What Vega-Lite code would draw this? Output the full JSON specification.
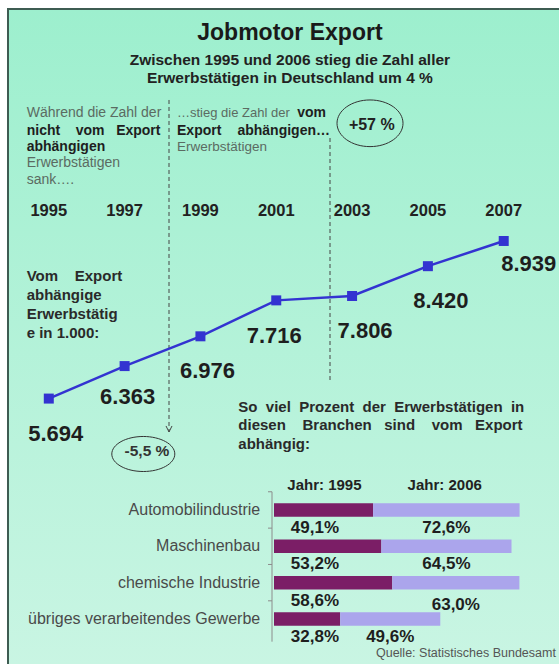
{
  "$schema": "https://vega.github.io/schema/vega-lite/v6.json",
  "width": 553,
  "height": 657,
  "autosize": {"type": "none"},
  "padding": {"left": 8, "top": 9, "right": 0, "bottom": 0},
  "background": "#ffffff",
  "config": {
    "view": {
      "fill": {"gradient": "linear", "x1": 0, "y1": 0, "x2": 0, "y2": 1, "stops": [{"offset": 0, "color": "#9defce"}, {"offset": 1, "color": "#c9f5e3"}]},
      "stroke": "#3e5c52",
      "strokeWidth": 2
    },
    "text": {"font": "Liberation Sans"}
  },
  "resolve": {"scale": {"x": "independent", "y": "independent", "color": "independent"}, "axis": {"x": "independent", "y": "independent"}},
  "layer": [
    {
      "data": {"values": [
        {"year": 1995, "value": 5694, "label": "5.694"},
        {"year": 1997, "value": 6363, "label": "6.363"},
        {"year": 1999, "value": 6976, "label": "6.976"},
        {"year": 2001, "value": 7716, "label": "7.716"},
        {"year": 2003, "value": 7806, "label": "7.806"},
        {"year": 2005, "value": 8420, "label": "8.420"},
        {"year": 2007, "value": 8939, "label": "8.939"}
      ]},
      "layer": [
        {
          "mark": {"type": "rule", "strokeDash": [4, 3], "color": "#444444", "strokeWidth": 1},
          "data": {"values": [{}]},
          "encoding": {
            "x": {"datum": 1998.171, "type": "quantitative", "scale": {"domain": [1993.924, 2008.511], "nice": false, "zero": false}, "axis": null},
            "y": {"datum": 11842, "type": "quantitative", "scale": {"domain": [188.1, 13715], "nice": false, "zero": false}, "axis": null},
            "y2": {"datum": 5006}
          }
        },
        {
          "mark": {"type": "rule", "strokeDash": [4, 3], "color": "#444444", "strokeWidth": 1},
          "data": {"values": [{}]},
          "encoding": {
            "x": {"datum": 2002.418, "type": "quantitative", "scale": {"domain": [1993.924, 2008.511], "nice": false, "zero": false}, "axis": null},
            "y": {"datum": 11059, "type": "quantitative", "scale": {"domain": [188.1, 13715], "nice": false, "zero": false}, "axis": null},
            "y2": {"datum": 6036}
          }
        },
        {
          "mark": {"type": "rule", "color": "#8c8c8c", "strokeWidth": 1},
          "data": {"values": [{}]},
          "encoding": {
            "x": {"datum": 2000.888, "type": "quantitative", "scale": {"domain": [1993.924, 2008.511], "nice": false, "zero": false}, "axis": null},
            "y": {"datum": 3775, "type": "quantitative", "scale": {"domain": [188.1, 13715], "nice": false, "zero": false}, "axis": null},
            "y2": {"datum": 689}
          }
        },
        {
          "mark": {"type": "point", "shape": "M-1,-1L0,1L1,-1", "size": 36, "filled": false, "stroke": "#444444", "strokeWidth": 1, "opacity": 1},
          "data": {"values": [{}]},
          "encoding": {
            "x": {"datum": 1998.171, "type": "quantitative", "scale": {"domain": [1993.924, 2008.511], "nice": false, "zero": false}, "axis": null},
            "y": {"datum": 5068, "type": "quantitative", "scale": {"domain": [188.1, 13715], "nice": false, "zero": false}, "axis": null}
          }
        },
        {
          "mark": {"type": "point", "shape": "M-1,0C-1,-0.3905,-0.5523,-0.707,0,-0.707C0.5523,-0.707,1,-0.3905,1,0C1,0.3905,0.5523,0.707,0,0.707C-0.5523,0.707,-1,0.3905,-1,0Z", "size": 4356, "filled": false, "stroke": "#333333", "strokeWidth": 1, "opacity": 1},
          "data": {"values": [{}]},
          "encoding": {
            "x": {"datum": 2003.473, "type": "quantitative", "scale": {"domain": [1993.924, 2008.511], "nice": false, "zero": false}, "axis": null},
            "y": {"datum": 11362, "type": "quantitative", "scale": {"domain": [188.1, 13715], "nice": false, "zero": false}, "axis": null}
          }
        },
        {
          "mark": {"type": "point", "shape": "M-1,0C-1,-0.307,-0.5523,-0.556,0,-0.556C0.5523,-0.556,1,-0.307,1,0C1,0.307,0.5523,0.556,0,0.556C-0.5523,0.556,-1,0.307,-1,0Z", "size": 3969, "filled": false, "stroke": "#333333", "strokeWidth": 1, "opacity": 1},
          "data": {"values": [{}]},
          "encoding": {
            "x": {"datum": 1997.493, "type": "quantitative", "scale": {"domain": [1993.924, 2008.511], "nice": false, "zero": false}, "axis": null},
            "y": {"datum": 4553, "type": "quantitative", "scale": {"domain": [188.1, 13715], "nice": false, "zero": false}, "axis": null}
          }
        },
        {
          "mark": {"type": "line", "color": "#3333d1", "strokeWidth": 2.5},
          "encoding": {
            "x": {"field": "year", "type": "quantitative", "scale": {"domain": [1993.924, 2008.511], "nice": false, "zero": false}, "axis": null},
            "y": {"field": "value", "type": "quantitative", "scale": {"domain": [188.1, 13715], "nice": false, "zero": false}, "axis": null}
          }
        },
        {
          "mark": {"type": "point", "shape": "square", "filled": true, "color": "#3333d1", "size": 100, "opacity": 1},
          "encoding": {
            "x": {"field": "year", "type": "quantitative", "scale": {"domain": [1993.924, 2008.511], "nice": false, "zero": false}, "axis": null},
            "y": {"field": "value", "type": "quantitative", "scale": {"domain": [188.1, 13715], "nice": false, "zero": false}, "axis": null}
          }
        },
        {
          "mark": {"type": "text", "fontWeight": "bold", "fontSize": 16.5, "color": "#222222", "baseline": "middle"},
          "encoding": {
            "x": {"field": "year", "type": "quantitative", "scale": {"domain": [1993.924, 2008.511], "nice": false, "zero": false}, "axis": null},
            "y": {"datum": 9546, "type": "quantitative", "scale": {"domain": [188.1, 13715], "nice": false, "zero": false}, "axis": null},
            "text": {"field": "year", "type": "nominal"}
          }
        },
        {
          "transform": [{"filter": "datum.year == 1995 || datum.year == 1999"}],
          "mark": {"type": "text", "fontWeight": "bold", "fontSize": 22, "color": "#1e1e1e", "baseline": "middle", "dx": 7, "dy": 35},
          "encoding": {
            "x": {"field": "year", "type": "quantitative", "scale": {"domain": [1993.924, 2008.511], "nice": false, "zero": false}, "axis": null},
            "y": {"field": "value", "type": "quantitative", "scale": {"domain": [188.1, 13715], "nice": false, "zero": false}, "axis": null},
            "text": {"field": "label", "type": "nominal"}
          }
        },
        {
          "transform": [{"filter": "datum.year == 1997"}],
          "mark": {"type": "text", "fontWeight": "bold", "fontSize": 22, "color": "#1e1e1e", "baseline": "middle", "dx": 3, "dy": 31},
          "encoding": {
            "x": {"field": "year", "type": "quantitative", "scale": {"domain": [1993.924, 2008.511], "nice": false, "zero": false}, "axis": null},
            "y": {"field": "value", "type": "quantitative", "scale": {"domain": [188.1, 13715], "nice": false, "zero": false}, "axis": null},
            "text": {"field": "label", "type": "nominal"}
          }
        },
        {
          "transform": [{"filter": "datum.year == 2001"}],
          "mark": {"type": "text", "fontWeight": "bold", "fontSize": 22, "color": "#1e1e1e", "baseline": "middle", "dx": -2, "dy": 36},
          "encoding": {
            "x": {"field": "year", "type": "quantitative", "scale": {"domain": [1993.924, 2008.511], "nice": false, "zero": false}, "axis": null},
            "y": {"field": "value", "type": "quantitative", "scale": {"domain": [188.1, 13715], "nice": false, "zero": false}, "axis": null},
            "text": {"field": "label", "type": "nominal"}
          }
        },
        {
          "transform": [{"filter": "datum.year == 2003 || datum.year == 2005"}],
          "mark": {"type": "text", "fontWeight": "bold", "fontSize": 22, "color": "#1e1e1e", "baseline": "middle", "dx": 13, "dy": 35},
          "encoding": {
            "x": {"field": "year", "type": "quantitative", "scale": {"domain": [1993.924, 2008.511], "nice": false, "zero": false}, "axis": null},
            "y": {"field": "value", "type": "quantitative", "scale": {"domain": [188.1, 13715], "nice": false, "zero": false}, "axis": null},
            "text": {"field": "label", "type": "nominal"}
          }
        },
        {
          "transform": [{"filter": "datum.year == 2007"}],
          "mark": {"type": "text", "fontWeight": "bold", "fontSize": 22, "color": "#1e1e1e", "baseline": "middle", "dx": 25, "dy": 23},
          "encoding": {
            "x": {"field": "year", "type": "quantitative", "scale": {"domain": [1993.924, 2008.511], "nice": false, "zero": false}, "axis": null},
            "y": {"field": "value", "type": "quantitative", "scale": {"domain": [188.1, 13715], "nice": false, "zero": false}, "axis": null},
            "text": {"field": "label", "type": "nominal"}
          }
        },
        {
          "data": {"values": [{"t": "Jobmotor Export"}]},
          "mark": {"type": "text", "fontWeight": "bold", "fontSize": 23, "color": "#1a1a1a", "baseline": "middle", "align": "center"},
          "encoding": {
            "x": {"datum": 2001.36, "type": "quantitative", "scale": {"domain": [1993.924, 2008.511], "nice": false, "zero": false}, "axis": null},
            "y": {"datum": 13215, "type": "quantitative", "scale": {"domain": [188.1, 13715], "nice": false, "zero": false}, "axis": null},
            "text": {"field": "t"}
          }
        },
        {
          "data": {"values": [{"t": "Zwischen 1995 und 2006 stieg die Zahl aller"}]},
          "mark": {"type": "text", "fontWeight": "bold", "fontSize": 15.5, "color": "#222222", "baseline": "middle", "align": "center"},
          "encoding": {
            "x": {"datum": 2001.36, "type": "quantitative", "scale": {"domain": [1993.924, 2008.511], "nice": false, "zero": false}, "axis": null},
            "y": {"datum": 12665, "type": "quantitative", "scale": {"domain": [188.1, 13715], "nice": false, "zero": false}, "axis": null},
            "text": {"field": "t"}
          }
        },
        {
          "data": {"values": [{"t": "Erwerbstätigen in Deutschland um 4 %"}]},
          "mark": {"type": "text", "fontWeight": "bold", "fontSize": 15.5, "color": "#222222", "baseline": "middle", "align": "center"},
          "encoding": {
            "x": {"datum": 2001.36, "type": "quantitative", "scale": {"domain": [1993.924, 2008.511], "nice": false, "zero": false}, "axis": null},
            "y": {"datum": 12301, "type": "quantitative", "scale": {"domain": [188.1, 13715], "nice": false, "zero": false}, "axis": null},
            "text": {"field": "t"}
          }
        },
        {
          "data": {"values": [{"t": "Während die Zahl der"}]},
          "mark": {"type": "text", "fontSize": 14, "color": "#5b6b62", "baseline": "middle", "align": "left"},
          "encoding": {
            "x": {"datum": 1994.417, "type": "quantitative", "scale": {"domain": [1993.924, 2008.511], "nice": false, "zero": false}, "axis": null},
            "y": {"datum": 11568, "type": "quantitative", "scale": {"domain": [188.1, 13715], "nice": false, "zero": false}, "axis": null},
            "text": {"field": "t"}
          }
        },
        {
          "data": {"values": [{"t": "nicht\u00a0\u00a0\u00a0 vom\u00a0\u00a0 Export"}]},
          "mark": {"type": "text", "fontWeight": "bold", "fontSize": 14, "color": "#1e1e1e", "baseline": "middle", "align": "left"},
          "encoding": {
            "x": {"datum": 1994.417, "type": "quantitative", "scale": {"domain": [1993.924, 2008.511], "nice": false, "zero": false}, "axis": null},
            "y": {"datum": 11210, "type": "quantitative", "scale": {"domain": [188.1, 13715], "nice": false, "zero": false}, "axis": null},
            "text": {"field": "t"}
          }
        },
        {
          "data": {"values": [{"t": "abhängigen"}]},
          "mark": {"type": "text", "fontWeight": "bold", "fontSize": 14, "color": "#1e1e1e", "baseline": "middle", "align": "left"},
          "encoding": {
            "x": {"datum": 1994.417, "type": "quantitative", "scale": {"domain": [1993.924, 2008.511], "nice": false, "zero": false}, "axis": null},
            "y": {"datum": 10880, "type": "quantitative", "scale": {"domain": [188.1, 13715], "nice": false, "zero": false}, "axis": null},
            "text": {"field": "t"}
          }
        },
        {
          "data": {"values": [{"t": "Erwerbstätigen\nsank…."}]},
          "mark": {"type": "text", "fontSize": 14, "color": "#5b6b62", "baseline": "middle", "align": "left", "lineBreak": "\n", "lineHeight": 16.7},
          "encoding": {
            "x": {"datum": 1994.417, "type": "quantitative", "scale": {"domain": [1993.924, 2008.511], "nice": false, "zero": false}, "axis": null},
            "y": {"datum": 10539, "type": "quantitative", "scale": {"domain": [188.1, 13715], "nice": false, "zero": false}, "axis": null},
            "text": {"field": "t"}
          }
        },
        {
          "data": {"values": [{"t": "…stieg die Zahl der"}]},
          "mark": {"type": "text", "fontSize": 13, "color": "#5b6b62", "baseline": "middle", "align": "left"},
          "encoding": {
            "x": {"datum": 1998.382, "type": "quantitative", "scale": {"domain": [1993.924, 2008.511], "nice": false, "zero": false}, "axis": null},
            "y": {"datum": 11568, "type": "quantitative", "scale": {"domain": [188.1, 13715], "nice": false, "zero": false}, "axis": null},
            "text": {"field": "t"}
          }
        },
        {
          "data": {"values": [{"t": "vom"}]},
          "mark": {"type": "text", "fontWeight": "bold", "fontSize": 14, "color": "#1e1e1e", "baseline": "middle", "align": "right"},
          "encoding": {
            "x": {"datum": 2002.312, "type": "quantitative", "scale": {"domain": [1993.924, 2008.511], "nice": false, "zero": false}, "axis": null},
            "y": {"datum": 11568, "type": "quantitative", "scale": {"domain": [188.1, 13715], "nice": false, "zero": false}, "axis": null},
            "text": {"field": "t"}
          }
        },
        {
          "data": {"values": [{"t": "Export"}]},
          "mark": {"type": "text", "fontWeight": "bold", "fontSize": 14, "color": "#1e1e1e", "baseline": "middle", "align": "left"},
          "encoding": {
            "x": {"datum": 1998.382, "type": "quantitative", "scale": {"domain": [1993.924, 2008.511], "nice": false, "zero": false}, "axis": null},
            "y": {"datum": 11210, "type": "quantitative", "scale": {"domain": [188.1, 13715], "nice": false, "zero": false}, "axis": null},
            "text": {"field": "t"}
          }
        },
        {
          "data": {"values": [{"t": "abhängigen…"}]},
          "mark": {"type": "text", "fontWeight": "bold", "fontSize": 14, "color": "#1e1e1e", "baseline": "middle", "align": "right"},
          "encoding": {
            "x": {"datum": 2002.418, "type": "quantitative", "scale": {"domain": [1993.924, 2008.511], "nice": false, "zero": false}, "axis": null},
            "y": {"datum": 11210, "type": "quantitative", "scale": {"domain": [188.1, 13715], "nice": false, "zero": false}, "axis": null},
            "text": {"field": "t"}
          }
        },
        {
          "data": {"values": [{"t": "Erwerbstätigen"}]},
          "mark": {"type": "text", "fontSize": 13.5, "color": "#5b6b62", "baseline": "middle", "align": "left"},
          "encoding": {
            "x": {"datum": 1998.382, "type": "quantitative", "scale": {"domain": [1993.924, 2008.511], "nice": false, "zero": false}, "axis": null},
            "y": {"datum": 10880, "type": "quantitative", "scale": {"domain": [188.1, 13715], "nice": false, "zero": false}, "axis": null},
            "text": {"field": "t"}
          }
        },
        {
          "data": {"values": [{"t": "+57 %"}]},
          "mark": {"type": "text", "fontWeight": "bold", "fontSize": 16, "color": "#222222", "baseline": "middle", "align": "center"},
          "encoding": {
            "x": {"datum": 2003.52, "type": "quantitative", "scale": {"domain": [1993.924, 2008.511], "nice": false, "zero": false}, "axis": null},
            "y": {"datum": 11327, "type": "quantitative", "scale": {"domain": [188.1, 13715], "nice": false, "zero": false}, "axis": null},
            "text": {"field": "t"}
          }
        },
        {
          "data": {"values": [{"t": "-5,5 %"}]},
          "mark": {"type": "text", "fontWeight": "bold", "fontSize": 15.5, "color": "#333333", "baseline": "middle", "align": "center"},
          "encoding": {
            "x": {"datum": 1997.59, "type": "quantitative", "scale": {"domain": [1993.924, 2008.511], "nice": false, "zero": false}, "axis": null},
            "y": {"datum": 4615, "type": "quantitative", "scale": {"domain": [188.1, 13715], "nice": false, "zero": false}, "axis": null},
            "text": {"field": "t"}
          }
        },
        {
          "data": {"values": [{"t": "Vom\u00a0\u00a0\u00a0 Export\nabhängige\nErwerbstätig\ne in 1.000:"}]},
          "mark": {"type": "text", "fontWeight": "bold", "fontSize": 15, "color": "#2a2a2a", "baseline": "middle", "align": "left", "lineBreak": "\n", "lineHeight": 19},
          "encoding": {
            "x": {"datum": 1994.417, "type": "quantitative", "scale": {"domain": [1993.924, 2008.511], "nice": false, "zero": false}, "axis": null},
            "y": {"datum": 8214, "type": "quantitative", "scale": {"domain": [188.1, 13715], "nice": false, "zero": false}, "axis": null},
            "text": {"field": "t"}
          }
        },
        {
          "data": {"values": [{"t": "So\u00a0 viel\u00a0 Prozent\u00a0 der\u00a0 Erwerbstätigen\u00a0 in\ndiesen\u00a0\u00a0\u00a0 Branchen\u00a0\u00a0 sind\u00a0\u00a0\u00a0 vom\u00a0\u00a0 Export\nabhängig:"}]},
          "mark": {"type": "text", "fontWeight": "bold", "fontSize": 15, "color": "#2a2a2a", "baseline": "middle", "align": "left", "lineBreak": "\n", "lineHeight": 18.5},
          "encoding": {
            "x": {"datum": 2000.0, "type": "quantitative", "scale": {"domain": [1993.924, 2008.511], "nice": false, "zero": false}, "axis": null},
            "y": {"datum": 5521, "type": "quantitative", "scale": {"domain": [188.1, 13715], "nice": false, "zero": false}, "axis": null},
            "text": {"field": "t"}
          }
        }
      ]
    },
    {
      "data": {"values": [
        {"industry": "Automobilindustrie", "year": "1995", "pct": 49.1, "label": "49,1%"},
        {"industry": "Automobilindustrie", "year": "2006", "pct": 72.6, "label": "72,6%"},
        {"industry": "Maschinenbau", "year": "1995", "pct": 53.2, "label": "53,2%"},
        {"industry": "Maschinenbau", "year": "2006", "pct": 64.5, "label": "64,5%"},
        {"industry": "chemische Industrie", "year": "1995", "pct": 58.6, "label": "58,6%"},
        {"industry": "chemische Industrie", "year": "2006", "pct": 63.0, "label": "63,0%"},
        {"industry": "übriges verarbeitendes Gewerbe", "year": "1995", "pct": 32.8, "label": "32,8%"},
        {"industry": "übriges verarbeitendes Gewerbe", "year": "2006", "pct": 49.6, "label": "49,6%"}
      ]},
      "transform": [{"stack": "pct", "groupby": ["industry"], "sort": [{"field": "year", "order": "ascending"}], "as": ["x0", "x1"]}],
      "layer": [
        {
          "mark": {"type": "bar"},
          "encoding": {
            "x": {"field": "x0", "type": "quantitative", "scale": {"domain": [-131.81, 142.22], "nice": false, "zero": false}, "axis": null},
            "x2": {"field": "x1"},
            "y": {"field": "industry", "type": "nominal", "sort": null, "scale": {"domain": ["Automobilindustrie", "Maschinenbau", "chemische Industrie", "übriges verarbeitendes Gewerbe"], "range": [482.8, 628.2], "paddingInner": 0.63, "paddingOuter": 0.315}, "axis": null},
            "color": {"field": "year", "type": "nominal", "scale": {"domain": ["1995", "2006"], "range": ["#7b1e66", "#aba5ec"]}, "legend": null}
          }
        },
        {
          "transform": [{"filter": "datum.year === '1995'"}],
          "mark": {"type": "rule", "color": "#8c8c8c", "strokeWidth": 1, "yOffset": -18.2},
          "encoding": {
            "x": {"datum": -2.97, "type": "quantitative", "scale": {"domain": [-131.81, 142.22], "nice": false, "zero": false}, "axis": null},
            "x2": {"datum": -0.99},
            "y": {"field": "industry", "type": "nominal", "sort": null, "scale": {"domain": ["Automobilindustrie", "Maschinenbau", "chemische Industrie", "übriges verarbeitendes Gewerbe"], "range": [482.8, 628.2], "paddingInner": 0.63, "paddingOuter": 0.315}, "axis": null}
          }
        },
        {
          "transform": [{"filter": "datum.year === '1995'"}],
          "mark": {"type": "text", "fontSize": 16, "color": "#4a4a4a", "baseline": "middle", "align": "right"},
          "encoding": {
            "x": {"datum": -6.84, "type": "quantitative", "scale": {"domain": [-131.81, 142.22], "nice": false, "zero": false}, "axis": null},
            "y": {"field": "industry", "type": "nominal", "sort": null, "scale": {"domain": ["Automobilindustrie", "Maschinenbau", "chemische Industrie", "übriges verarbeitendes Gewerbe"], "range": [482.8, 628.2], "paddingInner": 0.63, "paddingOuter": 0.315}, "axis": null},
            "text": {"field": "industry", "type": "nominal"}
          }
        },
        {
          "transform": [{"filter": "datum.year === '1995'"}],
          "mark": {"type": "text", "fontWeight": "bold", "fontSize": 17, "color": "#1e1e1e", "baseline": "middle", "align": "center", "dy": 18},
          "encoding": {
            "x": {"datum": 20.3, "type": "quantitative", "scale": {"domain": [-131.81, 142.22], "nice": false, "zero": false}, "axis": null},
            "y": {"field": "industry", "type": "nominal", "sort": null, "scale": {"domain": ["Automobilindustrie", "Maschinenbau", "chemische Industrie", "übriges verarbeitendes Gewerbe"], "range": [482.8, 628.2], "paddingInner": 0.63, "paddingOuter": 0.315}, "axis": null},
            "text": {"field": "label", "type": "nominal"}
          }
        },
        {
          "transform": [
            {"fold": ["x0", "x1"], "as": ["k", "v"]},
            {"aggregate": [{"op": "mean", "field": "v", "as": "mid"}], "groupby": ["industry", "year", "label"]},
            {"filter": "datum.year === '2006' && datum.industry !== 'chemische Industrie'"}
          ],
          "mark": {"type": "text", "fontWeight": "bold", "fontSize": 17, "color": "#1e1e1e", "baseline": "middle", "align": "center", "dy": 18},
          "encoding": {
            "x": {"field": "mid", "type": "quantitative", "scale": {"domain": [-131.81, 142.22], "nice": false, "zero": false}, "axis": null},
            "y": {"field": "industry", "type": "nominal", "sort": null, "scale": {"domain": ["Automobilindustrie", "Maschinenbau", "chemische Industrie", "übriges verarbeitendes Gewerbe"], "range": [482.8, 628.2], "paddingInner": 0.63, "paddingOuter": 0.315}, "axis": null},
            "text": {"field": "label", "type": "nominal"}
          }
        },
        {
          "transform": [
            {"fold": ["x0", "x1"], "as": ["k", "v"]},
            {"aggregate": [{"op": "mean", "field": "v", "as": "mid"}], "groupby": ["industry", "year", "label"]},
            {"filter": "datum.year === '2006' && datum.industry === 'chemische Industrie'"}
          ],
          "mark": {"type": "text", "fontWeight": "bold", "fontSize": 17, "color": "#1e1e1e", "baseline": "middle", "align": "center", "dy": 22},
          "encoding": {
            "x": {"field": "mid", "type": "quantitative", "scale": {"domain": [-131.81, 142.22], "nice": false, "zero": false}, "axis": null},
            "y": {"field": "industry", "type": "nominal", "sort": null, "scale": {"domain": ["Automobilindustrie", "Maschinenbau", "chemische Industrie", "übriges verarbeitendes Gewerbe"], "range": [482.8, 628.2], "paddingInner": 0.63, "paddingOuter": 0.315}, "axis": null},
            "text": {"field": "label", "type": "nominal"}
          }
        },
        {
          "data": {"values": [{"t": "Jahr: 1995"}]},
          "mark": {"type": "text", "fontWeight": "bold", "fontSize": 15, "color": "#222222", "baseline": "middle", "align": "center", "dy": -25},
          "encoding": {
            "x": {"datum": 25.0, "type": "quantitative", "scale": {"domain": [-131.81, 142.22], "nice": false, "zero": false}, "axis": null},
            "y": {"datum": "Automobilindustrie", "type": "nominal", "scale": {"domain": ["Automobilindustrie", "Maschinenbau", "chemische Industrie", "übriges verarbeitendes Gewerbe"], "range": [482.8, 628.2], "paddingInner": 0.63, "paddingOuter": 0.315}, "axis": null},
            "text": {"field": "t"}
          }
        },
        {
          "data": {"values": [{"t": "Jahr: 2006"}]},
          "mark": {"type": "text", "fontWeight": "bold", "fontSize": 15, "color": "#222222", "baseline": "middle", "align": "center", "dy": -25},
          "encoding": {
            "x": {"datum": 84.6, "type": "quantitative", "scale": {"domain": [-131.81, 142.22], "nice": false, "zero": false}, "axis": null},
            "y": {"datum": "Automobilindustrie", "type": "nominal", "scale": {"domain": ["Automobilindustrie", "Maschinenbau", "chemische Industrie", "übriges verarbeitendes Gewerbe"], "range": [482.8, 628.2], "paddingInner": 0.63, "paddingOuter": 0.315}, "axis": null},
            "text": {"field": "t"}
          }
        },
        {
          "data": {"values": [{"t": "Quelle: Statistisches Bundesamt"}]},
          "mark": {"type": "text", "fontSize": 12.5, "color": "#555555", "baseline": "middle", "align": "right", "dy": 34},
          "encoding": {
            "x": {"datum": 139.7, "type": "quantitative", "scale": {"domain": [-131.81, 142.22], "nice": false, "zero": false}, "axis": null},
            "y": {"datum": "übriges verarbeitendes Gewerbe", "type": "nominal", "scale": {"domain": ["Automobilindustrie", "Maschinenbau", "chemische Industrie", "übriges verarbeitendes Gewerbe"], "range": [482.8, 628.2], "paddingInner": 0.63, "paddingOuter": 0.315}, "axis": null},
            "text": {"field": "t"}
          }
        }
      ]
    }
  ]
}
